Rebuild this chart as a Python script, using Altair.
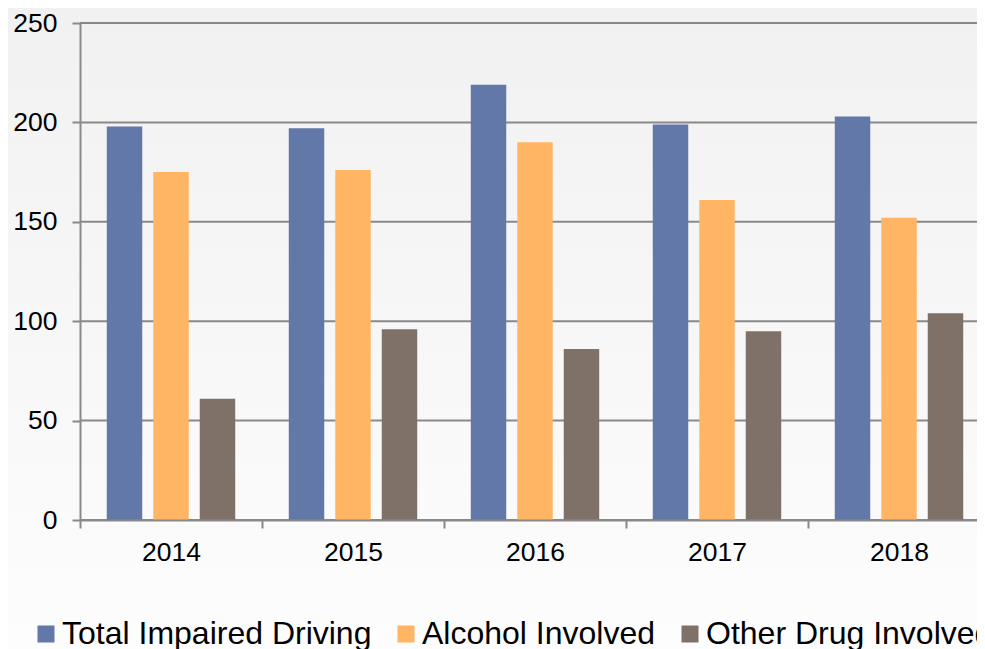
import altair as alt
import pandas as pd

years = ["2014", "2015", "2016", "2017", "2018"]
series = ["Total Impaired Driving", "Alcohol Involved", "Other Drug Involved"]
total = [198, 197, 219, 199, 203]
alcohol = [175, 176, 190, 161, 152]
other = [61, 96, 86, 95, 104]
colors = ["#6278A8", "#FFB563", "#7F7068"]
y_ticks = [0, 50, 100, 150, 200, 250]

rows = []
for i, yr in enumerate(years):
    for s, vals in zip(series, [total, alcohol, other]):
        rows.append({"year": yr, "series": s, "value": vals[i]})
df = pd.DataFrame(rows)

W, H = 897, 497
PL, PT, PB = 72, 15, 129
FONT = "Liberation Sans"
AX = "#898989"

yscale = alt.Scale(domain=[0, 250])
yaxis = alt.Axis(
    title=None, values=y_ticks, grid=False, zindex=1,
    domainColor=AX, domainWidth=2,
    tickColor=AX, tickWidth=2, tickSize=8,
    labelFont=FONT, labelFontSize=26.5, labelColor="#000000", labelPadding=15,
)

bg = alt.Chart(pd.DataFrame({"a": [0]})).mark_rect(
    color=alt.Gradient(
        gradient="linear",
        stops=[alt.GradientStop(color="#f1f1f1", offset=0),
               alt.GradientStop(color="#fdfdfd", offset=1)],
        x1=0, x2=0, y1=0, y2=1,
    )
).encode(x=alt.value(-PL), x2=alt.value(W + 20), y=alt.value(-PT), y2=alt.value(H + PB))

grid = alt.Chart(pd.DataFrame({"v": y_ticks})).mark_rule(
    color=AX, strokeWidth=2
).encode(y=alt.Y("v:Q", scale=yscale, axis=yaxis))

bars = alt.Chart(df).mark_bar().encode(
    x=alt.X(
        "year:N", sort=years,
        scale=alt.Scale(paddingInner=0, paddingOuter=0, range=[0, 910]),
        axis=alt.Axis(
            title=None, labelAngle=0, zindex=1,
            domainColor=AX, domainWidth=2,
            tickColor=AX, tickWidth=2, tickSize=8, tickBand="extent",
            labelFont=FONT, labelFontSize=26.5, labelColor="#000000", labelPadding=11,
        ),
    ),
    xOffset=alt.XOffset(
        "series:N", sort=series,
        scale=alt.Scale(domain=series, paddingInner=0.237, paddingOuter=0.576),
    ),
    y=alt.Y("value:Q", scale=yscale, axis=yaxis),
    color=alt.Color(
        "series:N", sort=series,
        scale=alt.Scale(domain=series, range=colors),
        legend=alt.Legend(
            title=None, orient="none", legendX=-50, legendY=595,
            direction="horizontal", symbolType="square", symbolSize=289,
            symbolStrokeWidth=0, symbolOpacity=1,
            labelFont=FONT, labelFontSize=32, labelColor="#000000",
            labelLimit=600, labelOffset=0, columnPadding=18,
        ),
    ),
)

chart = alt.layer(bg, grid, bars).properties(
    width=W, height=H,
    autosize=alt.AutoSizeParams(type="none"),
    padding={"left": PL, "top": PT, "right": 0, "bottom": PB},
    background="#f7f7f7",
).configure_view(stroke=None)

chart.save("out.html", embed_options={"renderer": "svg", "actions": False})
